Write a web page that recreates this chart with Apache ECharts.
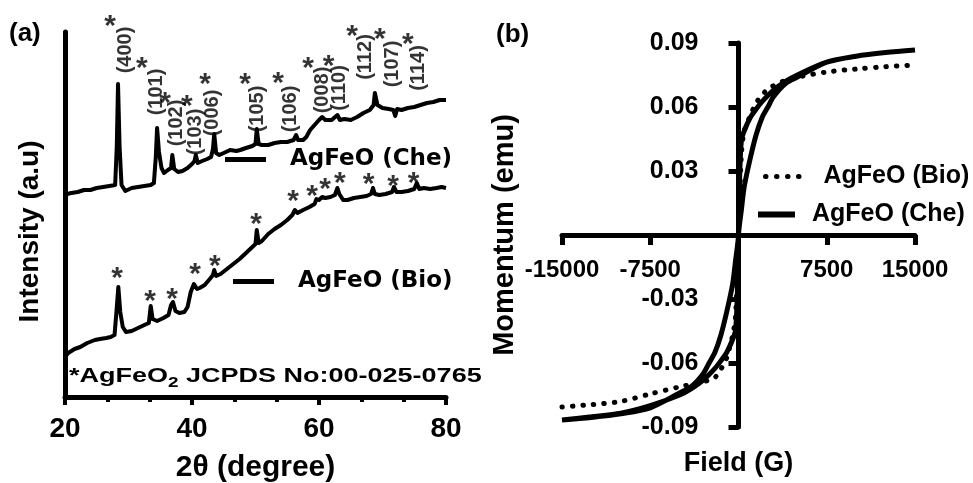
<!DOCTYPE html>
<html><head><meta charset="utf-8">
<script src="https://cdn.jsdelivr.net/npm/echarts@6/dist/echarts.min.js"></script>
<style>html,body{margin:0;padding:0;background:#fff}#c{width:973px;height:483px}</style>
</head><body><div id="c"></div>
<script>
// ---------- Panel (a): XRD ----------
const cheTheta = [20.0,20.3,21.0,22.0,23.0,24.0,25.0,26.0,27.0,27.9,28.15,28.35,28.6,28.9,29.5,30.5,31.5,32.5,33.5,34.0,34.3,34.5,34.8,35.2,35.6,36.2,36.7,36.9,37.2,37.8,38.5,39.3,40.0,40.4,40.6,40.9,41.6,42.4,43.0,43.3,43.5,43.8,44.3,45.0,46.0,47.0,47.6,48.5,49.5,50.0,50.2,50.5,51.0,52.0,53.0,54.0,55.0,56.0,56.4,56.7,57.5,58.0,58.6,59.3,60.0,60.5,61.0,62.0,62.9,63.3,64.0,65.0,66.0,67.0,68.0,68.6,68.8,69.2,70.0,71.0,71.7,72.0,72.3,73.0,74.0,75.0,76.0,77.0,78.0,79.0,80.0];
const cheInt = [197,203,204,205,207,207,209,210,211,212,250,313,250,212,206,209,210,211,212,214,240,269,245,229,224,227,229,242,228,225,226,229,233,236,242,234,236,238,240,248,263,244,242,244,247,246,247,249,251,253,268,253,252,252,254,255,255,257,262,257,257,260,267,272,277,280,277,277,282,277,278,277,280,284,287,292,304,292,289,288,287,281,288,287,289,290,292,294,295,297,297];
const bioTheta = [20.0,20.5,21.5,22.4,23.5,24.7,25.5,26.5,27.2,27.8,28.1,28.4,28.7,29.1,29.6,30.5,31.5,32.5,33.2,33.5,33.8,34.5,35.5,36.3,36.7,37.0,37.4,38.0,38.8,39.3,39.8,40.3,40.8,41.2,42.0,42.8,43.3,43.5,43.8,44.5,45.5,46.5,47.5,48.5,49.5,50.0,50.2,50.5,51.0,52.0,53.0,54.0,55.0,55.8,56.2,56.6,57.5,58.5,59.3,59.6,60.0,60.5,61.0,61.8,62.5,62.9,63.2,63.8,64.5,65.5,66.5,67.5,68.2,68.5,68.8,69.5,70.5,71.5,71.8,72.2,73.0,74.0,75.0,75.4,75.8,76.5,77.5,78.5,79.3,80.0];
const bioInt = [40,44,48,50,54,57,58,59,60,62,85,110,85,70,65,66,69,72,74,91,78,76,79,82,92,95,86,84,85,90,105,113,108,109,112,118,122,127,121,123,128,133,138,144,150,153,167,154,156,163,168,172,177,182,187,184,187,190,193,198,197,200,199,200,202,209,203,197,197,199,200,201,203,209,203,202,203,205,210,205,205,206,208,214,208,209,208,209,210,209];
const xTicksA = [20, 40, 60, 80];
// peak markers (*) and Miller indices
const cheStarTheta = [27.1, 32.1, 35.75, 39.2, 42.05, 48.35, 53.55, 58.3, 61.5, 65.2, 69.6, 74.0];
const cheStarInt   = [377, 335, 300, 297, 319, 319, 320, 335, 337, 367, 364, 359];
const hklLabels = ['(400)','(101)','(102)','(103)','(006)','(105)','(106)','(008)','(110)','(112)','(107)','(114)'];
const hklTheta  = [29.45, 34.4, 37.6, 40.5, 43.3, 50.25, 55.45, 60.5, 63.3, 67.25, 71.5, 75.6];
const hklInt    = [347, 305, 274, 265, 284, 288, 288, 307, 309, 340, 333, 329];
const bioStarTheta = [28.2, 33.4, 36.85, 40.5, 43.6, 50.1, 55.9, 58.9, 60.95, 63.3, 67.8, 71.65, 74.9];
const bioStarInt   = [125, 102, 104, 129, 137, 179, 202, 207, 214, 220, 219, 217, 220];

// ---------- Panel (b): M-H loops ----------
const fieldUp   = [-15000,-12500,-10000,-7500,-5000,-4000,-3000,-2000,-1500,-1000,-500,-250,-100,0,250,500,1000,1500,2000,2500,3000,4000,5000,7500,10000,12500,15000];
const cheMomUp  = [-0.0867,-0.0852,-0.0835,-0.0800,-0.0750,-0.0720,-0.0680,-0.0625,-0.0590,-0.0550,-0.0490,-0.0445,-0.0280,0.0000,0.0120,0.0230,0.0360,0.0470,0.0550,0.0600,0.0650,0.0710,0.0740,0.0810,0.0838,0.0855,0.0867];
const fieldDown = [15000,12500,10000,7500,5000,4000,3000,2000,1500,1000,500,250,100,0,-250,-500,-1000,-1500,-2000,-2500,-3000,-4000,-5000,-7500,-10000,-12500,-15000];
const cheMomDown= [0.0867,0.0855,0.0838,0.0810,0.0750,0.0720,0.0680,0.0625,0.0590,0.0550,0.0490,0.0445,0.0280,0.0000,-0.0120,-0.0230,-0.0360,-0.0470,-0.0550,-0.0600,-0.0650,-0.0710,-0.0740,-0.0810,-0.0838,-0.0855,-0.0867];
const bioField  = [-15000,-12500,-10000,-7500,-5000,-4000,-3000,-2500,-2000,-1500,-1000,-500,-250,0,250,500,1000,1500,2000,2500,3000,4000,5000,7500,10000,12500,15000];
const bioMom    = [-0.0806,-0.0795,-0.0780,-0.0745,-0.0712,-0.0700,-0.0688,-0.0680,-0.0668,-0.0630,-0.0575,-0.0470,-0.0380,0.0000,0.0380,0.0490,0.0560,0.0620,0.0655,0.0685,0.0700,0.0725,0.0740,0.0764,0.0778,0.0789,0.0797];

const FONT = 'Liberation Sans';
const WIDE = 'DejaVu Sans';
const zip = (a, b) => a.map((v, i) => [v, b[i]]);

const cheLoop = zip(fieldDown, cheMomDown).concat(zip(fieldUp, cheMomUp));
const annLabel = (fmt, size, rot, off) => ({
  show: true, position: 'inside', formatter: fmt, rotate: rot || 0, offset: off || [0, 0],
  fontFamily: FONT, fontWeight: 'bold', fontSize: size, color: '#000'
});

const gridB = {left: 562, right: 58, top: 43, bottom: 56};
const W = 973, H = 483;
// the crossing axes of panel (b) sit at field 0 / moment 0 (centre of the grid)
const yOffB = -((W - gridB.left - gridB.right) / 2);
const xOffB = -((H - gridB.top - gridB.bottom) / 2);

const chart = echarts.init(document.getElementById('c'), null, {renderer: 'canvas'});
chart.setOption({
  animation: false,
  backgroundColor: '#fff',
  color: ['#000'],
  title: [
    {text: '(a)', left: 9, top: 21, padding: 0, textStyle: {fontFamily: FONT, fontWeight: 'bold', fontSize: 26, color: '#000'}},
    {text: '(b)', left: 496, top: 22, padding: 0, textStyle: {fontFamily: FONT, fontWeight: 'bold', fontSize: 26, color: '#000'}}
  ],
  grid: [
    {left: 65, right: 527, top: 32, bottom: 86, outerBoundsMode: 'none'},
    Object.assign({outerBoundsMode: 'none'}, gridB)
  ],
  xAxis: [
    {type: 'value', gridIndex: 0, min: 20, max: 80, interval: 20,
     name: '2θ (degree)', nameLocation: 'middle', nameGap: 56,
     nameTextStyle: {fontFamily: FONT, fontWeight: 'bold', fontSize: 30, color: '#000'},
     axisLine: {lineStyle: {color: '#000', width: 5}},
     axisTick: {show: true, length: 8, lineStyle: {color: '#000', width: 4}},
     minorTick: {show: true, splitNumber: 3, length: 5, lineStyle: {color: '#000', width: 4}},
     axisLabel: {margin: 18, fontFamily: FONT, fontWeight: 'bold', fontSize: 28, color: '#000',
       formatter: v => xTicksA.includes(v) ? String(v) : ''},
     splitLine: {show: false}},
    {type: 'value', gridIndex: 1, min: -15000, max: 15000, interval: 7500, offset: xOffB,
     name: 'Field (G)', nameLocation: 'middle', nameGap: 215,
     nameTextStyle: {fontFamily: FONT, fontWeight: 'bold', fontSize: 27, color: '#000'},
     axisLine: {onZero: false, lineStyle: {color: '#000', width: 5}},
     axisTick: {show: true, length: 10, lineStyle: {color: '#000', width: 5}},
     axisLabel: {margin: 23, fontFamily: FONT, fontWeight: 'bold', fontSize: 24, color: '#000',
       formatter: v => v === 0 ? '' : String(v)},
     splitLine: {show: false}}
  ],
  yAxis: [
    {type: 'value', gridIndex: 0, min: 0, max: 365,
     name: 'Intensity (a.u)', nameLocation: 'middle', nameGap: 21, nameRotate: 90,
     nameTextStyle: {fontFamily: FONT, fontWeight: 'bold', fontSize: 28, color: '#000', padding: [0, 34, 0, 0]},
     axisLine: {show: true, lineStyle: {color: '#000', width: 5}},
     axisTick: {show: false}, axisLabel: {show: false}, splitLine: {show: false}},
    {type: 'value', gridIndex: 1, min: -0.09, max: 0.09, interval: 0.03, offset: yOffB,
     name: 'Momentum (emu)', nameLocation: 'middle', nameGap: 219, nameRotate: 90,
     nameTextStyle: {fontFamily: FONT, fontWeight: 'bold', fontSize: 29, color: '#000'},
     axisLine: {onZero: false, lineStyle: {color: '#000', width: 5}},
     axisTick: {show: true, length: 10, lineStyle: {color: '#000', width: 5}},
     axisLabel: {margin: 40, fontFamily: FONT, fontWeight: 'bold', fontSize: 25, color: '#000',
       formatter: v => Math.abs(v) < 1e-9 ? '' : v.toFixed(2)},
     splitLine: {show: false}}
  ],
  legend: [
    {left: 225, top: 148, padding: 0, selectedMode: false, icon: 'rect', itemWidth: 41, itemHeight: 5,
     itemStyle: {color: '#000'}, data: ['AgFeO (Che)'],
     textStyle: {fontFamily: WIDE, fontWeight: 'bold', fontSize: 23, color: '#000', padding: [0, 0, 0, 19]}},
    {left: 233, top: 270, padding: 0, selectedMode: false, icon: 'rect', itemWidth: 41, itemHeight: 5,
     itemStyle: {color: '#000'}, data: ['AgFeO (Bio)'],
     textStyle: {fontFamily: WIDE, fontWeight: 'bold', fontSize: 23, color: '#000', padding: [0, 0, 0, 19]}},
    {left: 763, top: 164, padding: 0, selectedMode: false, itemWidth: 40, itemHeight: 10,
     data: [{name: 'AgFeO (Bio)', itemStyle: {opacity: 0}, lineStyle: {width: 5, type: [0.5, 10.5], cap: 'round', color: '#000'}}],
     textStyle: {fontFamily: FONT, fontWeight: 'bold', fontSize: 25, color: '#000', padding: [0, 0, 0, 13]}},
    {left: 755, top: 202, padding: 0, selectedMode: false, itemWidth: 37, itemHeight: 10,
     data: [{name: 'AgFeO (Che)', itemStyle: {opacity: 0}, lineStyle: {width: 6, type: 'solid', color: '#000'}}],
     textStyle: {fontFamily: FONT, fontWeight: 'bold', fontSize: 25, color: '#000', padding: [0, 0, 0, 12]}}
  ],
  graphic: [
    {type: 'text', left: 69, top: 366, scaleX: 1.35, silent: true,
     style: {
       text: '{m|*AgFeO}{s|2}{m| JCPDS No:00-025-0765}',
       rich: {
         m: {fontFamily: FONT, fontWeight: 'bold', fontSize: 20, lineHeight: 24, fill: '#000', verticalAlign: 'bottom'},
         s: {fontFamily: FONT, fontWeight: 'bold', fontSize: 14, lineHeight: 14, fill: '#000', verticalAlign: 'bottom', padding: [0, 0, -4, 0]}
       }
     }}
  ],
  series: [
    {name: 'AgFeO (Bio)', type: 'line', xAxisIndex: 1, yAxisIndex: 1, data: zip(bioField, bioMom),
     symbol: 'none', smooth: 0.3, itemStyle: {color: '#000'},
     lineStyle: {color: '#000', width: 5, type: [0.5, 10], cap: 'round'}, z: 3},
    {name: 'AgFeO (Che)', type: 'line', xAxisIndex: 1, yAxisIndex: 1, data: cheLoop,
     symbol: 'none', smooth: 0.3, itemStyle: {color: '#000'},
     lineStyle: {color: '#000', width: 5}, z: 4},
    {name: 'AgFeO (Che)', type: 'line', xAxisIndex: 0, yAxisIndex: 0, data: zip(cheTheta, cheInt),
     symbol: 'none', itemStyle: {color: '#000'}, lineStyle: {color: '#000', width: 4, join: 'round'}},
    {name: 'AgFeO (Bio)', type: 'line', xAxisIndex: 0, yAxisIndex: 0, data: zip(bioTheta, bioInt),
     symbol: 'none', itemStyle: {color: '#000'}, lineStyle: {color: '#000', width: 4, join: 'round'}},
    {name: 'Che peaks', type: 'scatter', xAxisIndex: 0, yAxisIndex: 0, clip: false, silent: true,
     data: zip(cheStarTheta, cheStarInt), symbolSize: 1, itemStyle: {color: 'rgba(0,0,0,0)'},
     label: annLabel('*', 30, 0, [0, 7])},
    {name: 'Bio peaks', type: 'scatter', xAxisIndex: 0, yAxisIndex: 0, clip: false, silent: true,
     data: zip(bioStarTheta, bioStarInt), symbolSize: 1, itemStyle: {color: 'rgba(0,0,0,0)'},
     label: annLabel('*', 30, 0, [0, 7])},
    {name: 'hkl', type: 'scatter', xAxisIndex: 0, yAxisIndex: 0, clip: false, silent: true,
     data: zip(hklTheta, hklInt), symbolSize: 1, itemStyle: {color: 'rgba(0,0,0,0)'},
     label: annLabel(p => hklLabels[p.dataIndex], 20, 90)}
  ]
});
</script></body></html>
